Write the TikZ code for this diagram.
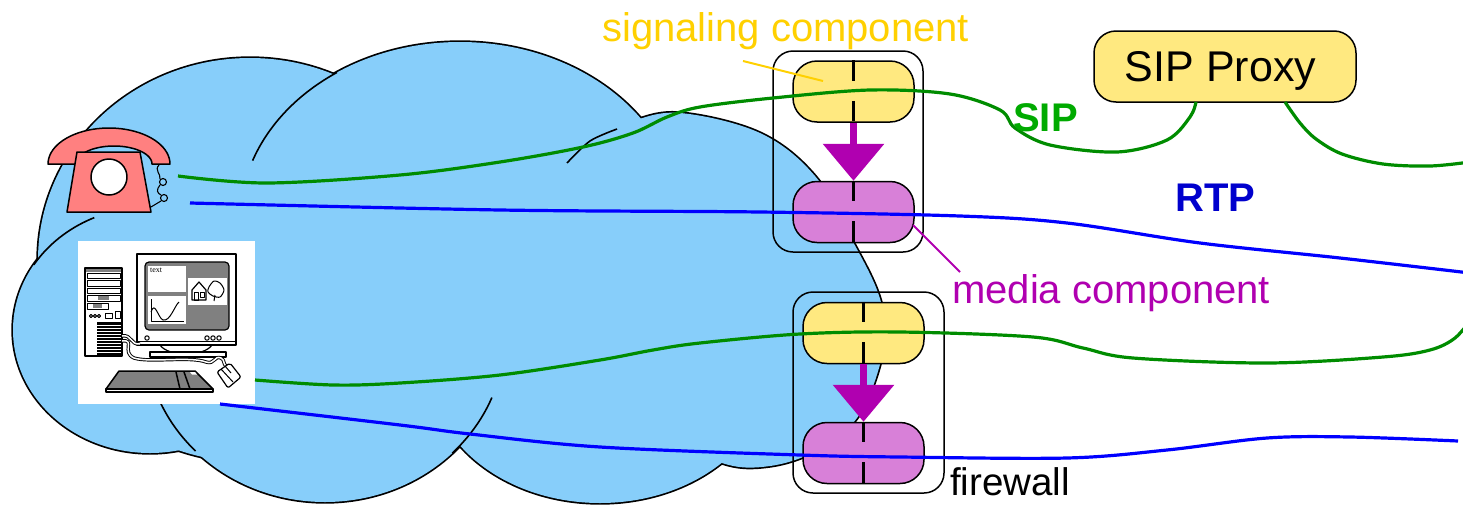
\documentclass[tikz,border=0pt]{standalone}
\usepackage{fontspec}
\setmainfont{Liberation Sans}
\newfontfamily\pcserif{Liberation Serif}
\usetikzlibrary{arrows.meta}

\definecolor{cloudblue}{RGB}{135,206,250}
\definecolor{sigfill}{RGB}{255,233,128}
\definecolor{medfill}{RGB}{216,128,216}
\definecolor{medpurple}{RGB}{176,0,176}
\definecolor{siggold}{RGB}{255,208,0}
\definecolor{sipgreen}{RGB}{0,140,0}
\definecolor{siplabel}{RGB}{0,170,0}
\definecolor{rtpblue}{RGB}{0,0,255}
\definecolor{rtplabel}{RGB}{0,0,205}
\definecolor{phonered}{RGB}{255,128,128}
\definecolor{screengray}{RGB}{128,128,128}

\begin{document}
\begin{tikzpicture}[x=1pt,y=-1pt,line join=round,
  cloudedge/.style={draw=black,line width=1.6pt},
  sipline/.style={draw=sipgreen,line width=3.2pt},
  rtpline/.style={draw=rtpblue,line width=3.2pt},
  sigbox/.style={draw=black,fill=sigfill,line width=1.5pt,rounded corners=24pt,
    minimum width=121pt,minimum height=61pt,inner sep=0pt},
  medbox/.style={sigbox,fill=medfill},
  fwbox/.style={draw=black,line width=1.5pt,rounded corners=20pt,inner sep=0pt},
  splitline/.style={draw=black,line width=3pt,dash pattern=on 20.5pt off 20pt},
  medarrow/.style={draw=medpurple,fill=medpurple,line width=7pt,
    -{Triangle[width=60pt,length=37pt]}},
  lbl/.style={inner sep=0pt,font=\fontsize{40}{48}\selectfont},
  boldlbl/.style={inner sep=0pt,font=\fontsize{40}{48}\selectfont\bfseries},
  clip thin/.style={line width=1pt},
  cable/.style={draw=black,line width=3.4pt},
  cablecore/.style={draw=white,line width=1.5pt}]

\useasboundingbox (0,0) rectangle (1463,504);

% ---------- cloud: lobes stroked thick, then filled again to keep only the outer rim
\foreach \cx/\cy/\rx/\ry in {250/260/212/202,150/330/137/123,325/335/180/167,600/370/170/133,460/220/220/178}
  \filldraw[fill=cloudblue,draw=black,line width=3.4pt] (\cx,\cy) ellipse [x radius=\rx,y radius=\ry];
\filldraw[fill=cloudblue,draw=black,line width=3.4pt] plot[smooth cycle,tension=0.6] coordinates
  {(680,113) (760,133) (815,176) (852,240) (877,290) (884,325) (879,368) (857,418) (818,450)
   (770,466) (722,463) (660,430) (600,340) (570,230) (567,165) (590,140) (630,122)};
\foreach \cx/\cy/\rx/\ry in {250/260/212/202,150/330/137/123,325/335/180/167,600/370/170/133,460/220/220/178}
  \fill[cloudblue] (\cx,\cy) ellipse [x radius=\rx,y radius=\ry];
\fill[cloudblue] plot[smooth cycle,tension=0.6] coordinates
  {(680,113) (760,133) (815,176) (852,240) (877,290) (884,325) (879,368) (857,418) (818,450)
   (770,466) (722,463) (660,430) (600,340) (570,230) (567,165) (590,140) (630,122)};
% inner folds of the cloud
\draw[cloudedge] plot[domain=199.5:236,samples=40,variable=\t] ({460+220*cos(\t)},{220+178*sin(\t)});
\draw[cloudedge] plot[domain=212:246,samples=40,variable=\t] ({150+137*cos(\t)},{330+123*sin(\t)});
\draw[cloudedge] plot[domain=22:45,samples=30,variable=\t] ({325+180*cos(\t)},{335+167*sin(\t)});
\draw[cloudedge] plot[domain=136:160,samples=30,variable=\t] ({325+180*cos(\t)},{335+167*sin(\t)});
\draw[cloudedge] plot[smooth] coordinates {(567,163) (590,141) (617,129)};

% ---------- telephone
\filldraw[fill=phonered,draw=black,line width=1.5pt]
  plot[domain=180:360,samples=40,variable=\t] ({109+61*cos(\t)},{164+36*sin(\t)})
  -- plot[domain=360:180,samples=40,variable=\t] ({114+38*cos(\t)},{164+18*sin(\t)}) -- cycle;
\filldraw[fill=phonered,draw=black,line width=1.5pt] (77,152) -- (140,152) -- (151,212) -- (67,212) -- cycle;
\filldraw[fill=white,draw=black,line width=1.5pt] (109,177) circle (18);
\draw[line width=1.1pt] (159,165) .. controls (154,170) and (161,174) .. (160,179);
\draw[line width=1.1pt] (163,182) circle (3.5);
\draw[line width=1.1pt] (160,185) .. controls (156,190) and (157,193) .. (161,195);
\draw[line width=1.1pt] (164,198) circle (3.5);
\draw[line width=1.1pt] (161,201) -- (151,207);
\coordinate (phoneS) at (178,176);
\coordinate (phoneR) at (190,203);

% ---------- workstation
\node[fill=white,minimum width=177pt,minimum height=163pt,inner sep=0pt] (pc) at (166.5,322.5) {};
% tower
\draw[line width=1.3pt,fill=white] (85,268) rectangle (122,356);
\fill[screengray] (86,269) rectangle (121,271.5);
\draw[clip thin] (87,273) rectangle (120,278) (87,280) rectangle (120,286) (87,288) rectangle (120,293);
\draw[clip thin] (87,295) rectangle (120,301);
\fill[screengray] (98,296) rectangle (109,300);
\draw[clip thin] (87,303) rectangle (108,309);
\fill[screengray] (93,304) rectangle (102,308);
\draw[clip thin] (91,316) circle (1.6) (95,316) circle (1.6) (99,316) circle (1.6);
\draw[clip thin] (105,313) rectangle (112,318) (115,311) rectangle (120,318);
\fill (97,322) rectangle (121,355);
\foreach \y in {325,328,...,352} \draw[white,line width=0.7pt] (97,\y) -- (121,\y);
% monitor
\draw[line width=1.5pt,fill=white] (137,254) rectangle (236,345);
\draw[line width=1.2pt,fill=screengray,rounded corners=4pt] (145,262) rectangle (229,330);
\fill[white] (148,266) rectangle (186,292);
\node[anchor=north west,inner sep=0pt,font=\pcserif\fontsize{8}{9}\selectfont] (txt) at (150,268) {text};
\fill[white] (148,296) rectangle (186,324);
\draw[line width=1pt] (151,299) -- (151,321) -- (184,321);
\draw[line width=1pt] (151,312) .. controls (155,300) and (158,318) .. (163,320)
  .. controls (170,322) and (175,305) .. (179,302);
\fill[white] (188,278) rectangle (227,305);
\draw[line width=1.2pt] (192,290) -- (199,282) -- (206,290) -- (206,300) -- (192,300) -- cycle;
\draw[line width=1pt] (194,292) rectangle (198,300) (200,292) rectangle (204,297);
\draw[line width=1pt] plot[smooth cycle] coordinates {(209,287) (214,281) (220,283) (224,290) (220,297) (213,296) (208,292)};
\draw[line width=1pt] (215,295) -- (214,301);
\draw[line width=1pt] (137,341) -- (236,341);
\draw[clip thin,fill=white] (147,338) circle (2.2) (207,338) circle (2.2) (213,338) circle (2.2) (219,338) circle (2.2);
\draw[line width=1.2pt] (160,345) .. controls (168,357) and (204,357) .. (212,345);
\draw[line width=1.2pt,fill=white] (150,352) rectangle (226,357);
% cables
\draw[cable] (122,336) .. controls (132,334) and (130,345) .. (140,344);
\draw[cablecore] (122,336) .. controls (132,334) and (130,345) .. (140,344);
\draw[cable] (122,341) .. controls (136,339) and (121,352) .. (134,358) .. controls (150,363) and (190,356) .. (206,362)
  .. controls (215,365) and (214,355) .. (221,358) .. controls (225,360) and (223,364) .. (226,366);
\draw[cablecore] (122,341) .. controls (136,339) and (121,352) .. (134,358) .. controls (150,363) and (190,356) .. (206,362)
  .. controls (215,365) and (214,355) .. (221,358) .. controls (225,360) and (223,364) .. (226,366);
% keyboard
\draw[line width=1.5pt,fill=screengray] (119,371) -- (195,371) -- (213,389) -- (106,389) -- cycle;
\draw[line width=1.5pt,fill=white] (106,389) rectangle (213,392);
\draw[line width=1.5pt] (176,372) -- (180,389) (184,372) -- (190,389);
\fill[white] (190,372) -- (195,372) -- (197,374.5) -- (192,374.5) -- cycle;
% mouse
\draw[line width=1.2pt,fill=white,rounded corners=2pt] (217,372) -- (230,363) -- (241,377) -- (228,388) -- cycle;
\draw[clip thin] (221,369) -- (233,382) (225,366) -- (231,373);
\coordinate (pcS) at (255,380);
\coordinate (pcR) at (220,404);

% ---------- firewalls
\node[fwbox,minimum width=150pt,minimum height=201pt] (fw1) at (848,151.5) {};
\node[sigbox] (s1) at (853.5,91.5) {};
\node[medbox] (m1) at (853.5,212) {};
\node[fwbox,minimum width=151pt,minimum height=201pt] (fw2) at (868.5,392.5) {};
\node[sigbox] (s2) at (863.5,333) {};
\node[medbox] (m2) at (863.5,453) {};

% ---------- SIP proxy
\node[sigbox,minimum width=262pt,minimum height=71pt,rounded corners=22pt] (proxy) at (1225,66.5) {};
\node[anchor=base,inner sep=0pt,font=\fontsize{43}{50}\selectfont] (proxytxt) at (1220.5,81) {SIP Proxy};
\coordinate (proxyL) at (1196,102);
\coordinate (proxyR) at (1285,102);

% ---------- signalling paths
\draw[sipline] plot[smooth,tension=0.55] coordinates {(phoneS) (267,183) (400,175) (500,162) (583,147)
  (633,133) (667,117) (700,107) (773,98) (870,90) (950,94) (1000,110) (1015,128) (1050,145)
  (1117,152) (1167,140) (1190,117) (proxyL)};
\draw[sipline] plot[smooth,tension=0.55] coordinates {(proxyR) (1300,123) (1316,139) (1342,154)
  (1383,164) (1430,166) (1470,162)};
\draw[sipline] plot[smooth,tension=0.55] coordinates {(pcS) (333,385) (400,383) (500,375) (600,360)
  (653,350) (700,343) (800,334) (900,332) (1033,337) (1083,348) (1133,358) (1267,363) (1383,357)
  (1430,350) (1455,338) (1472,318)};

% ---------- media paths
\draw[rtpline] plot[smooth,tension=0.55] coordinates {(phoneR) (500,210) (760,212) (960,216)
  (1067,223) (1200,243) (1340,258) (1470,273)};
\draw[rtpline] plot[smooth,tension=0.55] coordinates {(pcR) (400,425) (470,434) (600,447) (800,455)
  (900,457) (1067,458) (1167,450) (1267,438) (1350,437) (1458,441)};

% ---------- component split marks and signalling-to-media arrows
\draw[splitline] (s1.north) -- (s1.south);
\draw[splitline] (m1.north) -- (m1.south);
\draw[splitline] (s2.north) -- (s2.south);
\draw[splitline] (m2.north) -- (m2.south);
\draw[medarrow] (s1.south) -- (m1.north);
\draw[medarrow] (s2.south) -- (m2.north);

% ---------- labels
\node[lbl,anchor=base west,text=siggold] (siglbl) at (602,41) {signaling component};
\coordinate (sigfoot) at (743,61);
\coordinate (sigtip) at (823,81);
\draw[siggold,line width=2pt] (sigfoot) -- (sigtip);
\node[lbl,anchor=base west,text=medpurple] (medlbl) at (952,303) {media component};
\coordinate (medtip) at (913,225);
\coordinate (medfoot) at (960,272);
\draw[medpurple,line width=2pt] (medtip) -- (medfoot);
\node[lbl,anchor=base west,font=\fontsize{38.5}{46}\selectfont] (fwlbl) at (950,495) {firewall};
\node[boldlbl,anchor=base west,text=siplabel] (siplbl) at (1013,131) {SIP};
\node[boldlbl,anchor=base west,text=rtplabel] (rtplbl) at (1175,211) {RTP};
\end{tikzpicture}
\end{document}
